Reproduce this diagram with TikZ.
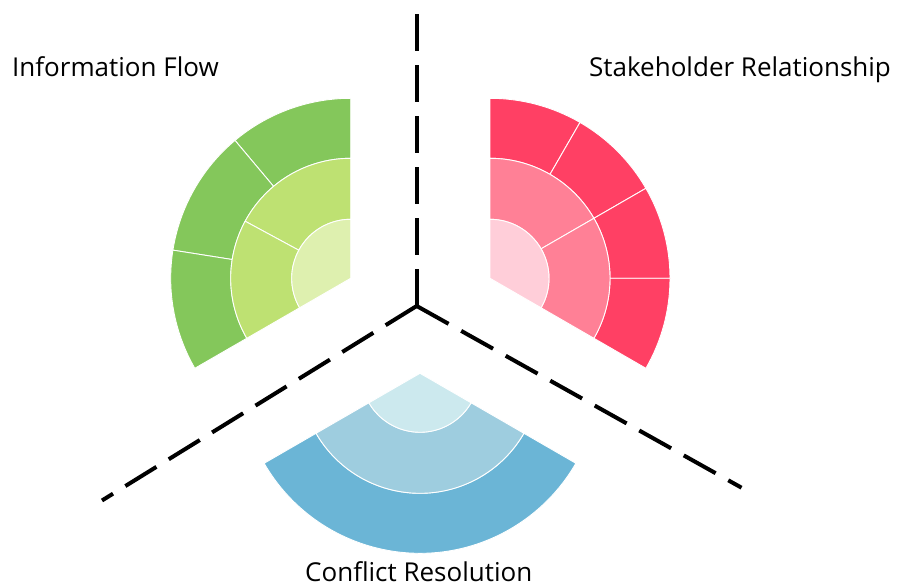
\documentclass[tikz,border=0pt]{standalone}
\usepackage{fontspec}
\setmainfont{Open Sans}
\usetikzlibrary{calc}
\definecolor{gOut}{HTML}{84C75B}
\definecolor{gMid}{HTML}{BEE172}
\definecolor{gIn}{HTML}{DEF0AF}
\definecolor{rOut}{HTML}{FF4064}
\definecolor{rMid}{HTML}{FF8096}
\definecolor{rIn}{HTML}{FFCED9}
\definecolor{bOut}{HTML}{6BB5D6}
\definecolor{bMid}{HTML}{9ECDDF}
\definecolor{bIn}{HTML}{CCE9EE}
\newcommand\ringseg[6]{% center, r1, r2, a1, a2, colour
  \fill[#6, draw=white, line width=0.9pt]
    ($(#1)+(#4:#3)$) arc[start angle=#4, end angle=#5, radius=#3]
    -- ($(#1)+(#5:#2)$) arc[start angle=#5, end angle=#4, radius=#2] -- cycle;}
\newcommand\coreseg[5]{% center, r, a1, a2, colour
  \fill[#5, draw=white, line width=0.9pt]
    (#1) -- ($(#1)+(#3:#2)$) arc[start angle=#3, end angle=#4, radius=#2] -- cycle;}
\tikzset{
  divider/.style={line width=4pt, dash pattern=on 36.5pt off 14.5pt},
  title/.style={anchor=base west, inner sep=0pt, font=\fontsize{26}{30}\selectfont, text=black}
}
\begin{document}
\begin{tikzpicture}[x=1pt, y=1pt]
\useasboundingbox (0,0) rectangle (905,588);
% centres
\coordinate (G) at (350.7,309.7);
\coordinate (R) at (490,309.7);
\coordinate (B) at (420,214.7);
% green wedge
\ringseg{G}{120}{180}{90}{130}{gOut}
\ringseg{G}{120}{180}{130}{171}{gOut}
\ringseg{G}{120}{180}{171}{210}{gOut}
\ringseg{G}{59}{120}{90}{151.6}{gMid}
\ringseg{G}{59}{120}{151.6}{210}{gMid}
\coreseg{G}{59}{90}{210}{gIn}
% red wedge
\ringseg{R}{120}{180}{60}{90}{rOut}
\ringseg{R}{120}{180}{30}{60}{rOut}
\ringseg{R}{120}{180}{0}{30}{rOut}
\ringseg{R}{120}{180}{-30}{0}{rOut}
\ringseg{R}{59}{120}{30}{90}{rMid}
\ringseg{R}{59}{120}{-30}{30}{rMid}
\coreseg{R}{59}{-30}{90}{rIn}
% blue wedge
\ringseg{B}{120}{180}{210}{330}{bOut}
\ringseg{B}{59}{120}{210}{330}{bMid}
\coreseg{B}{59}{210}{330}{bIn}
% dashed dividers
\coordinate (J) at (416.7,282);
\coordinate (Jt) at (416.7,574);
\coordinate (Jl) at (102,87.5);
\coordinate (Jr) at (741.5,100.3);
\draw[divider] (J) -- (Jt);
\draw[divider] (J) -- (Jl);
\draw[divider] (J) -- (Jr);
% titles
\node[title] (tI) at (12,511) {Information Flow};
\node[title] (tS) at (589,511) {Stakeholder Relationship};
\node[title] (tC) at (305,6) {Conflict Resolution};
\end{tikzpicture}
\end{document}
